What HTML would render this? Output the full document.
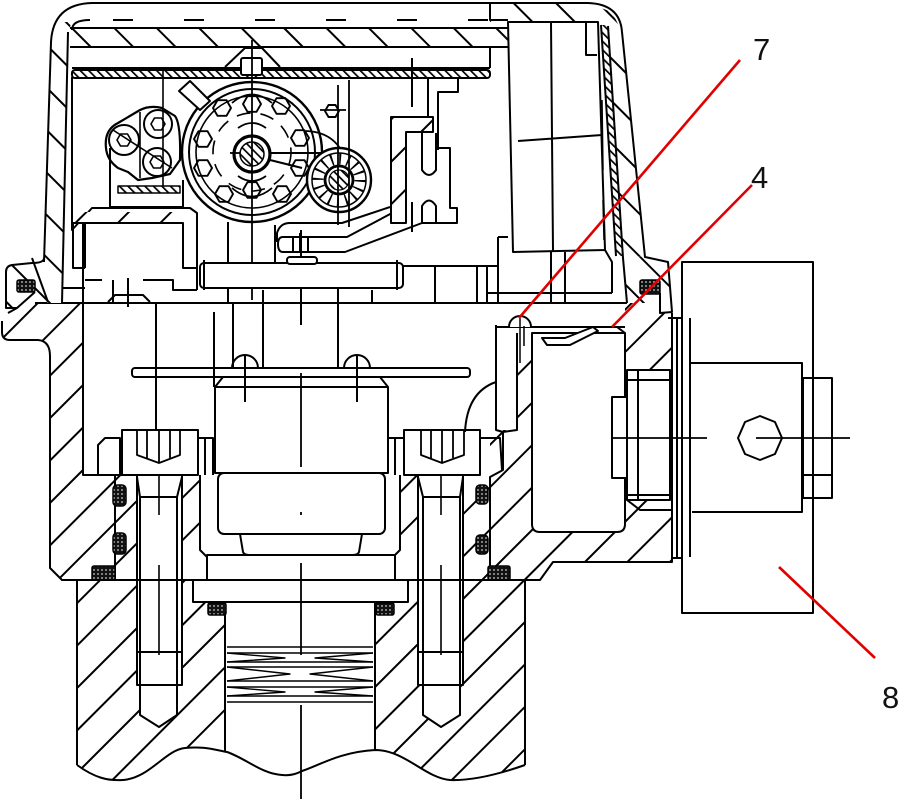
<!DOCTYPE html>
<html><head><meta charset="utf-8"><style>
html,body{margin:0;padding:0;background:#fff;overflow:hidden}
svg{display:block}
</style></head><body>
<svg width="900" height="799" viewBox="0 0 900 799" xmlns="http://www.w3.org/2000/svg">
<defs>
<pattern id="hf" patternUnits="userSpaceOnUse" width="30" height="30" patternTransform="rotate(45)"><rect width="30" height="30" fill="#fff"/><rect x="0" y="0" width="2" height="30" fill="#000"/></pattern>
<pattern id="hb" patternUnits="userSpaceOnUse" width="30" height="30" patternTransform="rotate(-45)"><rect width="30" height="30" fill="#fff"/><rect x="0" y="0" width="2" height="30" fill="#000"/></pattern>
<pattern id="hd" patternUnits="userSpaceOnUse" width="6" height="6" patternTransform="rotate(-45)"><rect width="6" height="6" fill="#fff"/><rect width="1.7" height="6" fill="#000"/></pattern>
<pattern id="st" patternUnits="userSpaceOnUse" width="4" height="4"><rect width="4" height="4" fill="#111"/><circle cx="2" cy="2" r="0.9" fill="#ccc"/></pattern>
<polygon id="hx" points="9,0 4.5,7.8 -4.5,7.8 -9,0 -4.5,-7.8 4.5,-7.8"/>
<polygon id="hxs" points="7,0 3.5,6 -3.5,6 -7,0 -3.5,-6 3.5,-6"/>
</defs>

<!-- ================= BODY HATCH ================= -->
<g stroke="none">
<path fill="url(#hf)" d="M8,313 L17,308 L35,303 L83,303 L83,475 L137,475 L137,580 L62,580 L50,568 L50,356 Q50,341 38,340 L10,340 Q2,340 2,332 L2,321 Z"/>
<path fill="url(#hf)" d="M77,765 C95,778 108,781 123,780 C150,778 165,750 185,748 C205,746 215,750 227,752 C245,758 262,774 282,775 C292,776 298,773 302,771 C320,765 340,752 375,750 C405,750 425,778 450,780 C475,781 505,772 525,765 L525,580 L77,580 Z"/>
<path fill="url(#hf)" d="M463,475 L490,475 L490,440 L503,430 L517,430 L517,333 L625,333 L625,303 L660,303 L660,313 L672,313 L672,562 L553,562 L540,580 L463,580 Z"/>
<rect x="182" y="475" width="18" height="80" fill="url(#hf)"/>
<rect x="400" y="475" width="18" height="80" fill="url(#hf)"/>
</g>

<g fill="none" stroke="#000" stroke-width="2" stroke-linejoin="round">

<!-- bolt holes (white) -->
<polygon fill="#fff" stroke="none" points="137,475 182,475 182,685 177,685 177,715 159,727 140,715 140,685 137,685"/>
<polygon fill="#fff" stroke="none" points="418,475 463,475 463,685 460,685 460,715 441,727 423,715 423,685 418,685"/>
<!-- bore -->
<path fill="#fff" stroke="none" d="M225,602 L375,602 L375,750 C340,752 320,765 302,771 C298,773 292,776 282,775 C262,774 245,758 227,752 L225,751 Z"/>

<!-- body outlines -->
<path d="M2,321 L2,332 Q2,340 10,340 L38,340 Q50,341 50,356 L50,568 L62,580 L77,580 L77,765"/>
<path d="M8,313 L17,308"/>
<path d="M525,765 L525,580 L540,580 L553,562 L672,562 L672,313"/>
<path d="M35,303 L627,303"/>
<path d="M83,223 L83,475 L122,475"/>
<path d="M115,475 L115,580"/>
<path d="M62,580 L193,580 M408,580 L540,580"/>
<path d="M77,765 C95,778 108,781 123,780 C150,778 165,750 185,748 C205,746 215,750 227,752 C245,758 262,774 282,775 C292,776 298,773 302,771 C320,765 340,752 375,750 C405,750 425,778 450,780 C475,781 505,772 525,765"/>
<path d="M225,602 L225,752 M375,602 L375,750"/>
<!-- threads -->
<path d="M227,647 L373,647 M227,653 L373,653 M227,662 L373,662 M227,667 L373,667 M227,681 L373,681 M227,687 L373,687 M227,696 L373,696 M227,702 L373,702" stroke-width="1.6"/>
<path d="M227,653 L285,658 L227,662 M373,653 L315,658 L373,662 M227,667 L290,674 L227,681 M373,667 L310,674 L373,681 M227,687 L285,692 L227,696 M373,687 L315,692 L373,696" stroke-width="1.4"/>

<!-- left bolt -->
<path d="M137,475 L137,685 L182,685 L182,475"/>
<path d="M140,497 L140,715 L159,727 L177,715 L177,497 L140,497"/>
<path d="M137,477 L140,497 M182,477 L177,497 M137,652 L182,652 M140,685 L140,690 M177,685 L177,690"/>
<path d="M159,445 L159,515 M159,565 L159,655" stroke-width="1.6"/>
<rect x="122" y="430" width="76" height="45" fill="#fff"/>
<path d="M137,430 L137,455 L159,463 L180,455 L180,430 M147,430 L147,458 M159,430 L159,463 M170,430 L170,458" stroke-width="1.8"/>
<!-- right bolt -->
<path d="M463,475 L463,685 L418,685 L418,475"/>
<path d="M460,497 L460,715 L441,727 L423,715 L423,497 L460,497"/>
<path d="M463,477 L460,497 M418,477 L423,497 M418,652 L463,652"/>
<path d="M441,445 L441,515 M441,565 L441,655" stroke-width="1.6"/>
<rect x="404" y="430" width="76" height="45" fill="#fff"/>
<path d="M421,430 L421,455 L442,463 L464,455 L464,430 M431,430 L431,458 M442,430 L442,463 M453,430 L453,458" stroke-width="1.8"/>
<!-- small pieces by bolt heads -->
<path d="M98,475 L98,445 L105,438 L120,438 L120,475"/>
<path d="M198,438 L213,438 L213,475 M205,438 L205,475"/>
<path d="M388,438 L404,438 M395,438 L395,475"/>
<path d="M480,438 L500,438 L502,470"/>

<!-- central nut & parts -->
<rect x="132" y="368" width="338" height="9" rx="3" fill="#fff"/>
<path d="M232,368 A13,13 0 0 1 258,368 M344,368 A13,13 0 0 1 370,368"/>
<path d="M215,387 L223,377 M388,387 L380,377"/>
<rect x="215" y="387" width="173" height="86" fill="#fff"/>
<path d="M245,355 L245,402 M357,355 L357,402"/>
<rect x="218" y="473" width="167" height="61" rx="6" fill="#fff"/>
<path d="M240,534 L243,552 Q244,555 249,555 M362,534 L359,552 Q358,555 353,555"/>
<path d="M200,475 L200,550 L208,558 M400,475 L400,550 L392,558 M182,475 L182,555 M418,475 L418,555"/>
<rect x="207" y="555" width="188" height="25" fill="#fff"/>
<rect x="193" y="580" width="215" height="22" fill="#fff"/>
<path d="M301,373 L301,467 M301,563 L301,655 M301,705 L301,799 M301,512 L301,515" stroke-width="1.8"/>
<!-- chamber lines -->
<path d="M156,303 L156,430 M214,312 L214,387 M233,303 L233,368 M263,290 L263,368 M338,273 L338,368 M372,290 L372,303 M435,265 L435,303"/>
<path d="M465,432 Q467,392 496,382"/>

<!-- right body: box frame -->
<path d="M496,325 L496,430 L503,432 L503,470 L490,477 L490,580 M517,333 L517,430 L503,432"/>
<path d="M496,327 L625,327"/>
<path d="M532,333 L625,333 L625,524 Q625,532 617,532 L540,532 Q532,532 532,524 Z" fill="#fff"/>
<path d="M509,327 A11,11 0 0 1 531,327" fill="#fff"/>
<path d="M520,318 L520,363 M524,326 L524,346" stroke-width="1.5"/>
<path d="M542,338 L565,338 L593,327 L598,331 L570,345 L547,345 Z" fill="#fff"/>
<path d="M617,327 L625,333"/>
<!-- right nut cavity -->
<rect x="627" y="370" width="43" height="130" fill="#fff"/>
<path d="M638,370 L638,500 M627,380 L670,380 M627,495 L670,495 M627,500 L640,510 L672,510"/>
<rect x="612" y="397" width="15" height="81" fill="#fff"/>
<path d="M672,313 L672,562 M677,318 L677,558 M690,318 L690,557 M668,318 L690,318 M672,558 L690,558"/>

<!-- seals -->
<g fill="url(#st)" stroke="#000" stroke-width="1.5">
<rect x="113" y="485" width="13" height="21" rx="4"/>
<rect x="113" y="533" width="13" height="21" rx="4"/>
<rect x="92" y="566" width="23" height="14" rx="2"/>
<rect x="476" y="485" width="12" height="19" rx="4"/>
<rect x="476" y="535" width="12" height="19" rx="4"/>
<rect x="488" y="566" width="22" height="14" rx="2"/>
<rect x="208" y="603" width="18" height="12" rx="2"/>
<rect x="376" y="603" width="18" height="12" rx="2"/>
</g>

<!-- ================= COVER ================= -->
<polygon fill="url(#hb)" stroke="none" points="51,40 58,22 72,22 68,32 62,300 48,303 44,262"/>
<path fill="url(#hb)" stroke="none" d="M44,258 Q44,263 32,263 L12,265 Q6,266 6,272 L6,308 L17,308 L35,292 L48,303 L62,303 L62,280 Z"/>
<rect x="70" y="28" width="438" height="19" fill="url(#hb)" stroke="none"/>
<polygon fill="url(#hb)" stroke="none" points="490,4 590,4 612,12 620,28 608,26 597,22 490,22"/>
<polygon fill="url(#hb)" stroke="none" points="608,26 621,30 645,257 623,256"/>
<polygon fill="url(#hd)" stroke="none" points="601,25 608,25 623,256 616,256"/>
<polygon fill="url(#hb)" stroke="none" points="616,256 645,257 668,262 672,312 660,313 660,303 627,303 623,262"/>
<rect x="640" y="280" width="20" height="14" rx="2" fill="url(#st)" stroke-width="1.5"/>
<rect x="17" y="280" width="18" height="12" rx="2" fill="url(#st)" stroke-width="1.5"/>

<path d="M44,262 L51,42 Q53,4 92,3 L588,3 Q620,4 622,32 L645,257 L668,262 L672,312 L660,313 L660,293"/>
<path d="M44,258 Q44,263 32,263 L12,265 Q6,266 6,272 L6,308 L17,308 L35,292 M32,258 L48,302"/>
<path d="M72,30 Q72,20 90,20"/>
<path d="M113,20 L490,20" stroke-dasharray="20 51"/>
<path d="M68,32 L62,303"/>
<path d="M70,28 L508,28 M70,47 L508,47 M490,4 L490,20 L508,20 M490,47 L490,68"/>
<path d="M601,25 L616,256 M608,26 L623,258 L627,303"/>
<!-- display -->
<path d="M508,22 L598,22 L605,250 L513,252 Z" fill="#fff"/>
<path d="M551,23 L553,251 M518,141 L602,135 M586,22 L586,55 L597,55"/>
<path d="M602,100 L603,170 M603,200 L604,240" stroke-width="1.5"/>
<path d="M498,237 L498,303 M477,266 L477,303 M487,266 L487,303 M551,252 L551,303 M565,252 L565,303 M403,266 L498,266 M487,293 L612,293 M605,250 L612,262 L612,293 M498,237 L508,237"/>

<!-- thin hatched strip -->
<path d="M72,68 L490,68"/>
<rect x="72" y="70" width="418" height="8" rx="3" fill="url(#hd)"/>
<path d="M225,67 L245,48 L262,48 L280,67"/>
<rect x="241" y="58" width="21" height="17" rx="2" fill="#fff"/>

<!-- big gear -->
<circle cx="252" cy="152" r="70" fill="#fff" stroke-width="2.4"/>
<circle cx="252" cy="152" r="63" stroke-width="2"/>
<circle cx="252" cy="152" r="56" stroke-width="1.6"/>
<circle cx="252" cy="152" r="39" stroke-width="1.6" stroke-dasharray="14 10"/>
<path d="M232,103 Q252,86 272,103 M238,128 Q252,118 266,128 M232,188 Q252,205 272,188 M238,176 Q252,186 266,176" stroke-width="1.8"/>
<g stroke-width="1.9">
<use href="#hx" x="252" y="104"/><use href="#hx" x="252" y="190"/>
<use href="#hx" x="203" y="139"/><use href="#hx" x="203" y="168"/>
<use href="#hx" x="300" y="138"/><use href="#hx" x="300" y="168"/>
<use href="#hx" x="224" y="194"/><use href="#hx" x="282" y="194"/>
<use href="#hx" x="222" y="108"/><use href="#hx" x="281" y="106"/>
</g>
<circle cx="252" cy="154" r="18" fill="#fff" stroke-width="3.2"/>
<circle cx="252" cy="154" r="12" fill="url(#hd)" stroke-width="1.5"/>
<path d="M270,153 L323,153 M270,160 L302,168" stroke-width="2"/>
<path d="M252,40 L252,300" stroke-width="1.8"/>
<path d="M230,153 L240,153" stroke-width="1.8"/>
<polygon points="179,91 190,81 210,101 200,110" fill="#fff"/>

<!-- small gear -->
<path d="M306,131 Q335,132 345,158" stroke-width="1.8"/>
<circle cx="339" cy="180" r="32" fill="#fff" stroke-width="2.4"/>
<circle cx="339" cy="180" r="27" stroke-width="1.5"/>
<circle cx="339" cy="180" r="21" stroke-width="11" stroke-dasharray="1.8 6.45"/>
<circle cx="339" cy="180" r="14" fill="#fff" stroke-width="2.8"/>
<circle cx="339" cy="180" r="10" fill="url(#hd)" stroke-width="1.2"/>
<use href="#hxs" x="332" y="111" fill="#fff" stroke-width="1.9"/>
<path d="M338,85 L338,225 M349,80 L349,227 M320,110 L346,110" stroke-width="1.8"/>

<!-- left cluster -->
<path d="M106,148 Q104,130 118,123 L140,110 Q150,105 162,108 L175,116 Q181,124 180,160 L170,174 L152,178 L138,180 L128,172 L118,168 Q107,160 106,148 Z" fill="#fff" stroke-width="2.2"/>
<circle cx="124" cy="140" r="15" stroke-width="2"/>
<circle cx="158" cy="124" r="14" stroke-width="2"/>
<circle cx="157" cy="162" r="14" stroke-width="2"/>
<g stroke-width="1.6"><use href="#hxs" x="124" y="140"/><use href="#hxs" x="158" y="124"/><use href="#hxs" x="157" y="162"/></g>
<path d="M113,130 L172,168 M140,112 L140,178 M163,70 L163,190" stroke-width="1.6"/>
<path d="M110,148 L110,207 L183,207 L183,180"/>
<rect x="118" y="186" width="62" height="7" fill="url(#hd)" stroke-width="1.5"/>

<!-- lower-left block -->
<path d="M72,77 L72,230 L92,208 L190,208 L197,213 L197,290" />
<polygon points="85,212 190,212 190,223 73,223" fill="url(#hf)" stroke="none"/>
<path d="M73,223 L183,223 L183,268 L197,268 M73,223 L73,268 L85,268 M85,223 L85,268"/>
<path d="M62,288 L85,288 M85,280 L102,280 M113,280 L113,303 M128,278 L128,307 M143,280 L173,280 L173,290 L197,290 M108,302 L115,295 L143,295 L150,302"/>
<path d="M228,222 L228,303 M275,225 L275,263 M301,230 L301,325"/>

<!-- bar -->
<rect x="200" y="263" width="203" height="25" rx="4" fill="#fff"/>
<path d="M204,260 L204,290 M397,260 L397,290"/>
<rect x="287" y="257" width="30" height="7" rx="3" fill="#fff"/>

<!-- lever -->
<path d="M277,242 L277,233 Q280,223 290,223 L342,223 L390,207"/>
<path d="M283,237 L347,237 L392,213 M283,237 Q278,237 278,244 Q278,252 283,252 L345,252 L422,223"/>
<path d="M293,237 L293,252 M308,237 L308,252 M300,233 L300,252"/>

<!-- right bracket -->
<polygon points="391,117 433,117 433,132 406,132 406,223 391,223" fill="url(#hf)"/>
<path d="M428,78 L428,117"/>
<path d="M438,150 L438,92 L458,92 L458,78"/>
<path d="M422,133 L422,170 Q429,180 436,170 L436,133 M422,223 L422,206 Q429,195 436,206 L436,223"/>
<path d="M438,148 L450,148 L450,208 L457,208 L457,223 L422,223 M412,202 L412,232 M412,58 L412,107"/>
</g>

<!-- ================= CONNECTOR 8 ================= -->
<g fill="none" stroke="#000" stroke-width="2" stroke-linejoin="round">
<rect x="682" y="262" width="131" height="351" fill="#fff"/>
<path d="M690,318 L690,557 M690,363 L802,363 L802,512 L692,512"/>
<rect x="803" y="378" width="29" height="120" fill="#fff"/>
<path d="M803,475 L832,475 M813,378 L813,498"/>
<polygon points="760,416 775,422 782,438 775,454 760,460 745,454 738,438 745,422" fill="#fff"/>
<path d="M612,438 L707,438 M756,438 L850,438" stroke-width="1.8"/>
</g>

<!-- ================= LEADERS & LABELS ================= -->
<g stroke="#e00000" stroke-width="2.6" fill="none">
<path d="M740,60 L519,318"/>
<path d="M752,185 L612,327"/>
<path d="M779,567 L875,658"/>
</g>
<g font-family="Liberation Sans, Arial, sans-serif" font-size="31" fill="#111">
<text x="753" y="60">7</text>
<text x="751" y="188">4</text>
<text x="882" y="708">8</text>
</g>
</svg>
</body></html>
